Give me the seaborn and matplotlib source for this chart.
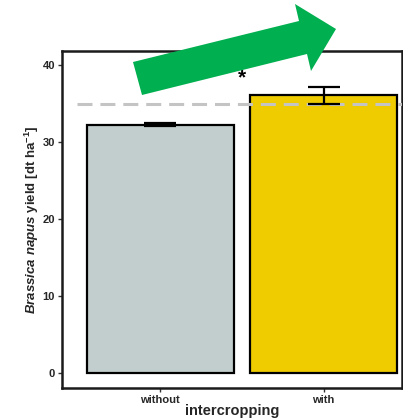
import matplotlib
matplotlib.use("Agg")
import matplotlib.pyplot as plt
from matplotlib.patches import Polygon
import seaborn as sns
import pandas as pd

# Rapeseed yield with and without intercropping
treatment = ["without", "with"]
yield_mean = [32.3, 36.1]
yield_se = [0.2, 1.1]
bar_colors = ["#c2cecd", "#eecc00"]
reference_yield = 35.0
significance = "*"

sns.set_theme(style="white")
plt.rcParams["font.family"] = ["Liberation Sans", "DejaVu Sans"]
plt.rcParams["mathtext.fontset"] = "custom"
plt.rcParams["mathtext.rm"] = "Liberation Sans:bold"
plt.rcParams["mathtext.it"] = "Liberation Sans:italic:bold"

df = pd.DataFrame({"intercropping": treatment, "yield": yield_mean})

fig = plt.figure(figsize=(4.03, 4.2), dpi=100)
ax = fig.add_axes([0.154, 0.076, 0.844, 0.803])

sns.barplot(data=df, x="intercropping", y="yield", hue="intercropping",
            palette=bar_colors, saturation=1, order=treatment, width=0.9,
            edgecolor="black", linewidth=1.6, legend=False, ax=ax, zorder=2)

ax.axhline(reference_yield, color="#c4c4c4", lw=2.2, dashes=(4.9, 2.6),
           xmin=0.045, zorder=4)

ax.errorbar(range(len(treatment)), yield_mean, yerr=yield_se, fmt="none",
            ecolor="black", elinewidth=1.6, capsize=11.5, capthick=1.6, zorder=5)

ax.text(0.5, 38.4, significance, ha="center", va="center",
        fontsize=15, fontweight="bold", color="black", zorder=6)

ax.set_xlim(-0.6, 1.48)
ax.set_ylim(-1.9, 41.9)
ax.set_yticks([0, 10, 20, 30, 40])

for side in ["left", "right", "top", "bottom"]:
    ax.spines[side].set_visible(True)
    ax.spines[side].set_linewidth(1.8)
    ax.spines[side].set_color("#1a1a1a")

ax.tick_params(axis="both", which="major", length=3, width=1, color="#333333",
               labelsize=8, labelcolor="#262626", pad=2, direction="out",
               bottom=True, left=True)
for lab in ax.get_xticklabels() + ax.get_yticklabels():
    lab.set_fontweight("bold")

ax.set_xlabel("intercropping", fontsize=10.5, fontweight="bold", labelpad=-1)
ax.set_ylabel(r"$\mathit{Brassica\ napus}$ yield [dt ha$^{-1}$]",
              fontsize=9.5, fontweight="bold", labelpad=1)

# Upward trend arrow drawn in figure pixel space
W, H = 403, 420
pts_px = [(133, 62), (299, 21), (295, 4), (336, 29), (311, 71), (307, 54), (142, 95)]
arrow = Polygon([(x / W, 1 - y / H) for x, y in pts_px], closed=True,
                transform=fig.transFigure, facecolor="#00b050",
                edgecolor="none", zorder=10)
fig.patches.append(arrow)

fig.savefig("out.png", dpi=100)
